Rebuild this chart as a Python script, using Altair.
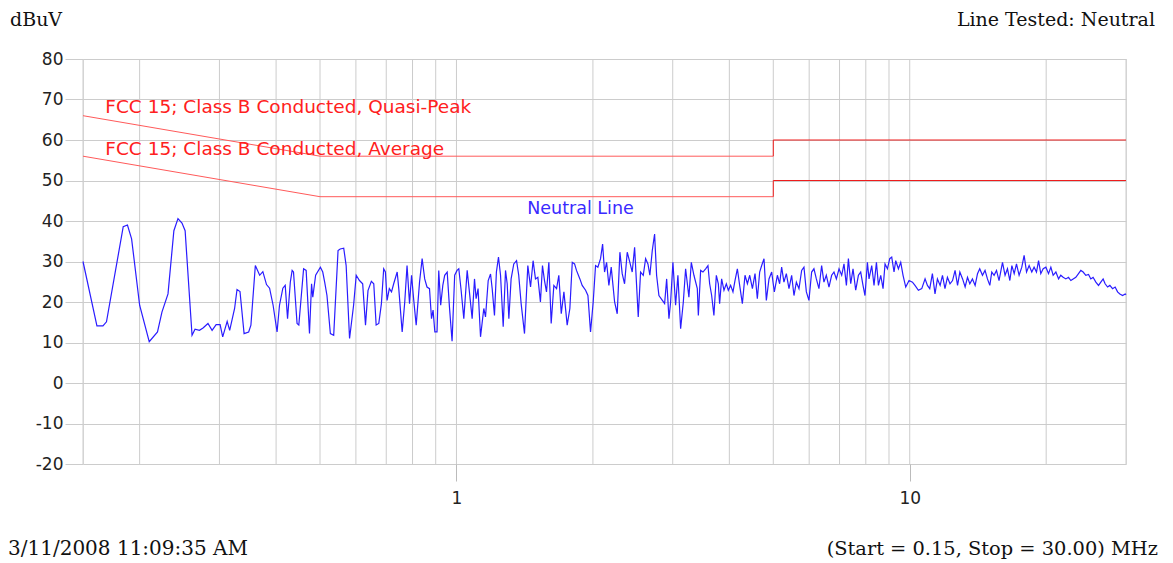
import altair as alt
import pandas as pd

# ---- measured trace (MHz, dBuV) ----
freq = [
0.150,0.161,0.166,0.169,0.184,0.188,0.192,0.200,0.210,0.219,0.224,0.231,0.238,0.243,0.248,0.252,
0.261,0.265,0.271,0.276,0.283,0.289,0.295,0.301,0.305,0.312,0.316,0.324,0.328,0.333,0.340,0.348,
0.352,0.360,0.368,0.374,0.381,0.387,0.394,0.402,0.407,0.414,0.419,0.424,0.430,
0.434,0.437,0.445,0.449,0.460,0.466,0.474,0.479,0.482,0.489,0.501,0.507,0.512,0.518,0.527,0.536,
0.548,0.554,0.564,0.571,0.581,0.593,0.601,0.611,0.621,0.630,0.638,0.649,0.657,0.665,0.674,0.683,
0.691,0.697,0.703,0.711,0.719,0.727,0.740,0.746,0.759,0.769,0.778,0.788,0.796,0.805,0.815,0.829,
0.840,0.851,0.861,0.872,0.881,0.888,0.896,0.906,0.914,0.923,0.933,0.942,0.954,0.965,0.978,0.991,
1.003,1.012,1.024,1.038,1.056,1.068,1.083,1.096,1.105,1.116,1.130,1.149,1.159,1.175,1.189,1.199,
1.213,1.225,1.238,1.251,1.268,1.283,1.294,1.305,1.320,1.338,1.357,1.372,1.389,1.413,1.437,1.457,
1.476,1.494,1.512,1.532,1.548,1.564,1.580,1.599,1.618,1.640,1.663,1.682,1.703,1.726,1.755,1.779,
1.801,1.822,1.840,1.872,1.894,1.927,1.950,1.976,2.003,2.027,2.051,2.079,2.101,2.122,2.144,2.169,
2.195,2.233,2.263,2.294,2.321,2.349,2.381,2.413,2.442,2.472,2.497,2.518,2.548,2.583,2.614,2.645,
2.671,2.704,2.736,2.764,2.797,2.846,2.879,2.909,2.943,2.968,3.003,3.044,3.080,3.123,3.166,3.203,
3.257,3.297,3.341,3.399,3.417,3.457,
3.498,3.546,3.588,3.619,3.656,3.698,3.744,3.782,3.807,3.846,3.892,3.939,3.979,4.026,4.074,4.116,
4.166,4.215,4.273,4.331,4.384,4.436,4.497,4.557,4.611,4.666,4.714,4.770,4.827,4.892,4.959,5.027,
5.105,5.164,5.217,5.278,5.343,5.415,5.489,5.554,5.622,5.697,5.775,5.843,5.915,5.993,6.076,6.147,
6.223,6.305,6.392,6.467,6.546,6.635,6.726,6.806,6.889,6.982,7.078,7.161,7.249,7.323,7.410,7.497,
7.600,7.705,7.795,7.887,7.967,8.065,8.132,8.244,8.341,8.444,8.530,8.630,8.732,8.821,8.929,9.034,
9.126,9.233,9.313,9.441,9.553,9.666,9.799,9.966,
10.14,10.27,10.45,10.63,10.81,10.94,11.07,11.22,11.37,11.51,11.67,11.81,11.96,12.11,12.27,12.43,
12.59,12.75,12.90,13.08,13.25,13.41,13.57,13.75,13.94,14.11,14.27,14.47,14.66,14.84,15.02,15.17,
15.35,15.54,15.74,16.02,16.23,16.43,16.63,16.80,17.00,17.20,17.43,17.67,17.88,18.10,18.34,18.59,
18.81,19.04,19.24,19.46,19.70,19.97,20.24,20.48,20.72,21.01,21.30,21.54,21.80,22.10,22.40,22.67,
22.94,23.25,23.57,23.85,24.13,24.46,24.80,25.09,25.38,25.74,26.09,26.40,26.71,26.98,27.32,27.64,
28.02,28.39,28.74,29.08,29.48,29.88,30.00,
]
level = [
30.0,14.1,14.1,15.1,38.6,39.0,35.6,19.2,10.2,12.6,17.5,22.0,37.6,40.6,39.5,37.6,
11.8,13.3,13.0,13.6,14.7,13.0,14.4,14.4,11.4,15.2,13.0,18.4,23.1,22.6,12.2,12.6,
14.3,29.0,26.6,27.5,24.3,23.4,19.2,12.6,19.2,23.4,24.1,15.9,24.9,
27.8,27.4,14.7,14.3,28.2,27.8,12.2,24.5,21.2,26.6,28.6,27.4,24.9,21.6,12.2,11.8,
32.7,33.1,33.3,29.0,11.0,19.2,26.6,25.3,24.5,14.3,22.8,25.1,24.5,14.3,14.7,19.6,
28.2,27.4,20.4,23.3,22.5,24.5,27.4,23.3,12.6,20.0,29.0,19.6,26.6,20.4,14.3,24.9,
30.7,25.7,23.7,23.3,15.9,18.0,12.6,12.6,27.8,19.2,24.1,26.6,27.4,18.8,10.3,26.6,
27.8,28.2,22.9,15.9,27.8,22.5,15.9,25.7,20.8,23.3,11.4,18.4,16.3,25.3,26.9,23.3,
16.7,27.4,31.1,26.6,13.9,27.8,24.5,15.9,25.7,29.4,30.2,26.6,19.6,12.2,29.0,23.7,
30.2,25.7,26.1,20.0,29.0,25.3,22.5,29.8,14.7,24.1,23.3,26.6,17.1,22.5,14.3,18.4,
29.8,29.4,27.8,25.7,24.1,22.9,21.6,12.6,20.0,29.0,28.6,30.7,34.3,27.4,29.8,24.1,
28.6,20.0,17.1,32.3,27.0,24.5,32.3,29.8,27.4,33.5,24.1,16.3,27.4,26.6,30.7,29.4,
26.6,32.7,36.8,26.6,21.6,20.4,19.6,25.7,15.9,20.0,29.8,19.2,26.6,13.4,20.0,28.2,
21.2,29.8,26.6,23.3,16.7,27.8,
27.4,28.2,29.0,24.5,21.6,16.7,26.6,24.5,19.6,25.7,22.9,24.5,22.9,24.1,22.5,25.3,
28.2,24.1,19.6,26.6,24.5,26.6,23.3,27.0,20.8,27.4,29.0,30.7,20.4,25.7,27.4,22.5,
26.6,24.5,28.6,24.9,27.0,23.3,26.6,21.6,24.9,23.3,27.8,28.6,22.5,20.4,27.4,28.2,
25.7,23.3,29.0,24.9,26.6,23.7,26.6,27.4,25.7,28.2,26.6,29.4,24.1,30.7,24.5,28.2,
22.9,26.6,27.4,24.1,21.6,29.8,25.7,29.0,24.1,29.8,24.1,26.6,23.3,29.4,28.2,30.7,
31.1,27.4,30.2,28.2,29.8,26.6,23.7,25.3,
24.9,24.1,22.9,23.3,25.7,24.1,23.3,27.0,22.0,25.7,24.1,26.6,23.3,26.1,24.5,25.3,
27.8,24.1,27.4,25.7,23.7,26.1,24.5,25.7,24.1,27.0,28.2,26.6,27.8,25.7,24.1,27.4,
26.6,27.8,25.3,29.8,26.6,28.2,25.3,29.0,27.0,29.4,26.6,28.6,31.5,27.4,29.0,27.4,
28.6,27.4,30.2,27.0,28.2,28.6,27.0,28.6,26.6,27.4,25.7,26.6,26.1,25.7,26.1,25.3,
25.7,26.1,27.0,27.8,27.4,26.6,26.8,25.7,26.1,24.9,24.1,24.9,25.7,24.5,23.7,24.1,
23.3,23.7,22.5,22.0,21.6,22.0,21.8,
]

# ---- FCC 15 Class B conducted limits (segments below / above 5 MHz) ----
qp_lo_f = [0.15, 0.5, 5.0]
qp_lo_v = [66, 56, 56]
qp_hi_f = [5.0, 5.0, 30.0]
qp_hi_v = [56, 60, 60]
av_lo_f = [0.15, 0.5, 5.0]
av_lo_v = [56, 46, 46]
av_hi_f = [5.0, 5.0, 30.0]
av_hi_v = [46, 50, 50]

grid_f = [0.15, 0.2, 0.3, 0.4, 0.5, 0.6, 0.7, 0.8, 0.9, 1, 2, 3, 4, 5, 6, 7, 8, 9, 10, 20, 30]
y_ticks = [-20, -10, 0, 10, 20, 30, 40, 50, 60, 70, 80]
x_labels = [1, 10]

trace = pd.DataFrame({"f": freq, "v": level})
segs = [("qp_lo", "lo", qp_lo_f, qp_lo_v), ("qp_hi", "hi", qp_hi_f, qp_hi_v),
        ("av_lo", "lo", av_lo_f, av_lo_v), ("av_hi", "hi", av_hi_f, av_hi_v)]
rows = []
for name, part, fs, vs in segs:
    for i, (f, v) in enumerate(zip(fs, vs)):
        rows.append({"f": f, "v": v, "s": name, "p": part, "o": i})
limits = pd.DataFrame(rows)
grid = pd.DataFrame({"f": grid_f})

xs = alt.Scale(type="log", domain=[0.15, 30], nice=False)
ys = alt.Scale(domain=[-20, 80], nice=False, zero=False)
SANS = "DejaVu Sans"
SERIF = "DejaVu Serif"

x_axis = alt.Axis(
    values=x_labels, grid=False, domain=False, ticks=True, tickSize=17,
    tickColor="#bbbbbb", labelFont=SANS, labelFontSize=17, labelColor="#222222",
    labelPadding=9, format="~g", title=None)
y_axis = alt.Axis(
    values=y_ticks, grid=True, gridColor="#cccccc", domain=False, ticks=True,
    tickSize=18, tickColor="#cccccc", labelFont=SANS, labelFontSize=17,
    labelColor="#222222", labelPadding=2, title=None,
    labelExpr="'' + datum.value")

X = lambda: alt.X("f:Q", scale=xs, axis=x_axis)
Y = lambda: alt.Y("v:Q", scale=ys, axis=y_axis)

grid_layer = alt.Chart(grid).mark_rule(color="#cccccc", strokeWidth=1).encode(x=X())

limit_layer = alt.Chart(limits).mark_line(strokeWidth=1).encode(
    x=X(), y=Y(), detail="s:N", order="o:Q",
    color=alt.Color("p:N", scale=alt.Scale(domain=["lo", "hi"], range=["#ff5a5a", "#ee1c1c"]),
                    legend=None),
)

trace_layer = alt.Chart(trace).mark_line(color="#2a1cff", strokeWidth=1.2).encode(
    x=X(), y=Y(),
)

lbl_red = pd.DataFrame({
    "f": [0.168, 0.168],
    "v": [68.1, 57.8],
    "t": ["FCC 15; Class B Conducted, Quasi-Peak", "FCC 15; Class B Conducted, Average"],
})
lbl_blue = pd.DataFrame({"f": [1.878], "v": [43.0], "t": ["Neutral Line"]})

lbl_left = alt.Chart(lbl_red).mark_text(
    font=SANS, fontSize=18.5, align="left", baseline="middle", color="#ff2020"
).encode(x=X(), y=Y(), text="t:N")
lbl_center = alt.Chart(lbl_blue).mark_text(
    font=SANS, fontSize=17.5, align="center", baseline="middle", color="#3a2aff"
).encode(x=X(), y=Y(), text="t:N")

one = pd.DataFrame({"k": [0]})
def corner(txt, x, y, align, size):
    return alt.Chart(one).mark_text(
        font=SERIF, fontSize=size, align=align, baseline="alphabetic", color="#111111"
    ).encode(x=alt.value(x), y=alt.value(y), text=alt.value(txt))

chart = alt.layer(
    grid_layer, limit_layer, trace_layer, lbl_left, lbl_center,
    corner("dBuV", -73, -33, "left", 19),
    corner("Line Tested: Neutral", 1072, -33, "right", 19),
    corner("3/11/2008 11:09:35 AM", -75, 496, "left", 20),
    corner("(Start = 0.15, Stop = 30.00) MHz", 1075, 496, "right", 19.4),
).properties(
    width=1043, height=405,
    autosize=alt.AutoSizeParams(type="none"),
    padding={"left": 75, "top": 51, "right": 36, "bottom": 97},
).configure_view(stroke=None).configure(background="white")

chart.save("out.html", embed_options={"renderer": "svg", "actions": False})
